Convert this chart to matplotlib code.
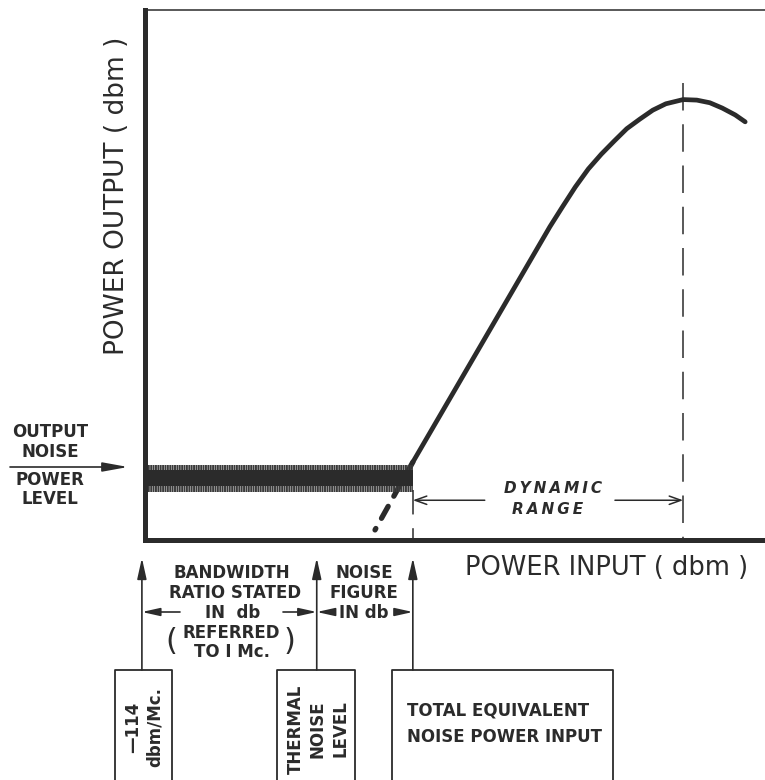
import matplotlib
matplotlib.use('Agg')
import matplotlib.pyplot as plt

# ---- schematic data (arbitrary units, 0-100 on both axes) ----
curve_x = [43.2, 65.3, 67.3, 69.4, 71.5, 73.6, 75.7, 77.7, 79.8, 81.9, 84.0, 86.8,
           89.0, 91.1, 93.1, 95.2, 96.8]
curve_y = [14.7, 59.1, 62.8, 66.6, 70.0, 72.8, 75.3, 77.6, 79.4, 81.1, 82.3, 83.1,
           83.0, 82.5, 81.5, 80.2, 78.9]
extrap_x = [43.2, 37.1]
extrap_y = [14.7, 1.9]
noise_x = [0.0, 43.2]
noise_core = [10.2, 13.2]
noise_outer = [9.1, 14.2]
knee_x = 43.2
knee_dash_top = 9.4
sat_x = 86.8
sat_dash_top = 86.2
thermal_x = 27.7
ref_x = -0.5
dyn_y = 7.5

C = '#2b2b2b'
plt.rcParams['font.family'] = ['DejaVu Sans']
plt.rcParams['hatch.linewidth'] = 1.4

fig = plt.figure(figsize=(7.65, 7.80), dpi=100)
ax = fig.add_axes([145/765, 240/780, 620/765, 530/780])
ax.set_xlim(0, 100)
ax.set_ylim(0, 100)
ax.set_xticks([]); ax.set_yticks([])
for s in ['left', 'bottom']:
    ax.spines[s].set_linewidth(3.6)
    ax.spines[s].set_color(C)
ax.spines['top'].set_linewidth(1.1)
ax.spines['top'].set_color(C)
ax.spines['right'].set_visible(False)

# noise band
ax.fill_between(noise_x, noise_outer[0], noise_outer[1], facecolor='none',
                hatch='|||||||', edgecolor='#3a3a3a', linewidth=0, zorder=2)
ax.fill_between(noise_x, noise_core[0], noise_core[1], color=C, linewidth=0, zorder=3)

# response curve
ax.plot(curve_x, curve_y, color=C, lw=3.4, solid_capstyle='round',
        solid_joinstyle='round', zorder=4)
ax.plot(extrap_x, extrap_y, color=C, lw=3.8, dashes=(2.6, 2.2), dash_capstyle='round', zorder=1)

# vertical dashed lines
ax.plot([knee_x, knee_x], [knee_dash_top, 0], color=C, lw=1.1, dashes=(16, 9))
ax.plot([sat_x, sat_x], [sat_dash_top, 0], color=C, lw=1.1, dashes=(18, 9))

# dynamic range arrows
ap_open = dict(arrowstyle='->,head_length=0.7,head_width=0.25', color=C, lw=1.1,
               shrinkA=0, shrinkB=0, mutation_scale=12)
ax.annotate('', xy=(knee_x, dyn_y), xytext=(54.8, dyn_y), arrowprops=ap_open)
ax.annotate('', xy=(sat_x, dyn_y), xytext=(75.8, dyn_y), arrowprops=ap_open)
ax.text(65.8, 9.8, '\u2009'.join('DYNAMIC'), ha='center', va='center', fontsize=11,
        fontstyle='italic', fontweight='bold', color=C)
ax.text(65.0, 5.7, '\u2009'.join('RANGE'), ha='center', va='center', fontsize=11,
        fontstyle='italic', fontweight='bold', color=C)

# ---- overlay in pixel coordinates for annotations ----
ov = fig.add_axes([0, 0, 1, 1])
ov.set_xlim(0, 765)
ov.set_ylim(780, 0)
ov.axis('off')

def px(xd):
    return ax.transData.transform((xd, 0))[0]

ov.text(117, 196, 'POWER OUTPUT ( dbm )', rotation=90, ha='center', va='center',
        fontsize=19, color=C)
ov.text(607, 568, 'POWER INPUT ( dbm )', ha='center', va='center', fontsize=18.5, color=C)

# output noise power level label
for t, y in [('OUTPUT', 432), ('NOISE', 452), ('POWER', 480), ('LEVEL', 499)]:
    ov.text(50, y, t, ha='center', va='center', fontsize=12, fontweight='bold', color=C)
ov.annotate('', xy=(128, 467), xytext=(10, 467),
            arrowprops=dict(arrowstyle='-|>,head_length=1.1,head_width=0.2', color=C,
                            lw=1.2, shrinkA=0, shrinkB=0, mutation_scale=14))

# vertical arrows from boxes
ap_up = dict(arrowstyle='-|>,head_length=0.9,head_width=0.2', color=C, lw=1.2,
             shrinkA=0, shrinkB=0, mutation_scale=14)
for xd in [ref_x, thermal_x, knee_x]:
    x = px(xd)
    ov.annotate('', xy=(x, 558), xytext=(x, 670), arrowprops=ap_up)

# horizontal arrows at y=612
ap_h = dict(arrowstyle='-|>,head_length=0.9,head_width=0.2', color=C, lw=1.2,
            shrinkA=0, shrinkB=0, mutation_scale=12)
ov.annotate('', xy=(px(ref_x), 612), xytext=(180, 612), arrowprops=ap_h)
ov.annotate('', xy=(px(thermal_x), 612), xytext=(283, 612), arrowprops=ap_h)
ov.annotate('', xy=(px(thermal_x), 612), xytext=(333, 612), arrowprops=ap_h)
ov.annotate('', xy=(px(knee_x), 612), xytext=(396, 612), arrowprops=ap_h)

# bandwidth text
for t, x, y in [('BANDWIDTH', 232, 573), ('RATIO STATED', 235, 593), ('IN  db', 233, 613),
                ('REFERRED', 231, 633), ('TO I Mc.', 232, 652)]:
    ov.text(x, y, t, ha='center', va='center', fontsize=12, fontweight='bold', color=C)
ov.text(171, 642, '(', ha='center', va='center', fontsize=22, color=C)
ov.text(290, 642, ')', ha='center', va='center', fontsize=22, color=C)

for t, x, y in [('NOISE', 364, 573), ('FIGURE', 364, 593), ('IN db', 364, 613)]:
    ov.text(x, y, t, ha='center', va='center', fontsize=12, fontweight='bold', color=C)

# boxes (bottom cut off by figure edge)
for x0, x1 in [(115, 172), (277, 355), (392, 613)]:
    ov.plot([x0, x0, x1, x1], [782, 670, 670, 782], color=C, lw=1.3, clip_on=False)

ov.text(144, 727, '\u2014114\ndbm/Mc.', rotation=90, ha='center', va='center',
        multialignment='center', fontsize=12, fontweight='bold', color=C, linespacing=1.3)
ov.text(318, 729, 'THERMAL\nNOISE\nLEVEL', rotation=90, ha='center', va='center',
        multialignment='center', fontsize=12, fontweight='bold', color=C, linespacing=1.3)
ov.text(505, 724, 'TOTAL EQUIVALENT\nNOISE POWER INPUT', ha='center', va='center',
        multialignment='left', fontsize=12, fontweight='bold', color=C, linespacing=1.6)

fig.savefig('out.png', dpi=100)
